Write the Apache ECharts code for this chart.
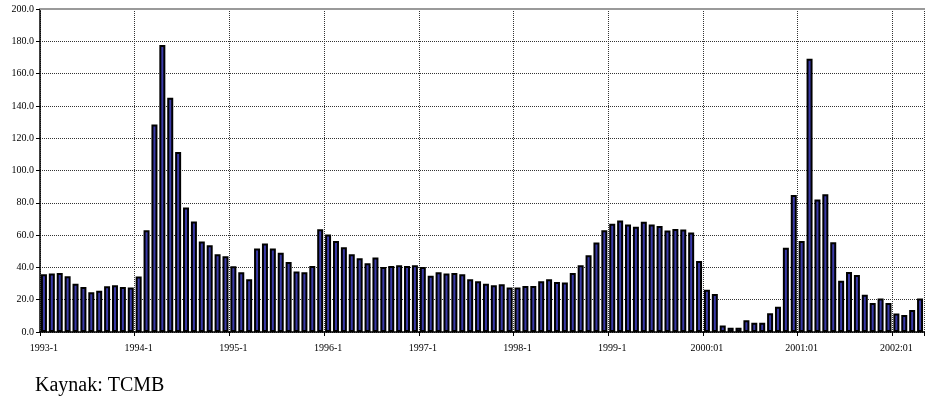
<!DOCTYPE html>
<html>
<head>
<meta charset="utf-8">
<script src="https://cdn.jsdelivr.net/npm/echarts@6/dist/echarts.min.js"></script>
<style>
  html, body { margin: 0; padding: 0; background: #fff; }
  #chart { width: 925px; height: 400px; }
</style>
</head>
<body>
<div id="chart"></div>
<script>
// Monthly values, one array per year
const v1993 = [35.7, 36.2, 36.6, 34.5, 29.8, 27.9, 24.6, 25.6, 28.3, 28.9, 27.9, 27.5];
const v1994 = [34.3, 63.0, 128.5, 177.7, 145.0, 111.4, 77.1, 68.4, 56.0, 53.7, 48.1, 46.9];
const v1995 = [40.7, 37.0, 32.6, 51.7, 54.8, 51.7, 49.0, 43.4, 37.4, 37.0, 40.9, 63.6];
const v1996 = [60.3, 56.4, 52.5, 48.1, 45.7, 42.6, 46.1, 40.3, 40.9, 41.3, 40.9, 41.3];
const v1997 = [40.3, 34.9, 37.0, 36.2, 36.6, 35.7, 32.6, 31.4, 29.8, 28.9, 29.5, 27.5];
const v1998 = [27.5, 28.5, 28.5, 31.4, 32.6, 31.0, 30.6, 36.6, 41.3, 47.5, 55.4, 63.0];
const v1999 = [67.1, 69.0, 66.5, 65.1, 68.2, 66.5, 65.7, 62.8, 63.8, 63.4, 61.6, 44.0];
const v2000 = [26.2, 23.6, 4.1, 2.7, 2.7, 7.2, 5.8, 5.8, 11.6, 15.7, 52.1, 84.9];
const v2001 = [56.4, 169.2, 82.0, 85.3, 55.6, 31.8, 37.2, 35.3, 23.1, 18.0, 20.7, 18.0];
const v2002 = [11.4, 10.5, 13.6, 20.7];

const years = [1993, 1994, 1995, 1996, 1997, 1998, 1999, 2000, 2001, 2002];
const yearValues = [v1993, v1994, v1995, v1996, v1997, v1998, v1999, v2000, v2001, v2002];

// Category names: "1993-1" style up to 1999, "2000:01" style afterwards
const categories = [];
const values = [];
years.forEach((y, i) => {
  yearValues[i].forEach((v, m) => {
    const mm = m + 1;
    categories.push(y < 2000 ? y + '-' + mm : y + ':' + String(mm).padStart(2, '0'));
    values.push(v);
  });
});

const serif = 'Liberation Serif';
const chart = echarts.init(document.getElementById('chart'), null, { renderer: 'canvas' });

chart.setOption({
  animation: false,
  backgroundColor: '#ffffff',
  title: {
    text: 'Kaynak: TCMB',
    left: 30, top: 371,
    textStyle: { fontFamily: serif, fontSize: 20, fontWeight: 'normal', color: '#000' }
  },
  grid: { left: 40, right: 1, top: 9, bottom: 68, containLabel: false },
  xAxis: {
    type: 'category',
    data: categories,
    boundaryGap: true,
    axisLine: { show: true, lineStyle: { color: '#000', width: 1.5 } },
    axisTick: { show: true, interval: 11, length: 4, lineStyle: { color: '#000' } },
    axisLabel: {
      interval: 11, color: '#000', fontFamily: serif, fontSize: 10, margin: 11
    },
    splitLine: {
      show: true, interval: 11,
      lineStyle: { color: '#333', type: [1, 1], width: 1 }
    }
  },
  yAxis: {
    type: 'value',
    min: 0, max: 200, interval: 20,
    axisLine: { show: true, lineStyle: { color: '#000', width: 1.5 } },
    axisTick: { show: true, length: 4, lineStyle: { color: '#000' } },
    axisLabel: {
      color: '#000', fontFamily: serif, fontSize: 10, margin: 6,
      formatter: v => v.toFixed(1)
    },
    splitLine: { show: true, lineStyle: { color: '#333', type: [1, 1], width: 1 } }
  },
  series: [{
    type: 'bar',
    data: values,
    barWidth: 6,
    itemStyle: { color: '#3a3aa8', borderColor: '#000', borderWidth: 2 }
  }],
  graphic: [
    {
      type: 'line', z: 5,
      shape: { x1: 40, y1: 9, x2: 925, y2: 9 },
      style: { stroke: '#9a9a9a', lineWidth: 2 }
    }
  ]
});
</script>
</body>
</html>
